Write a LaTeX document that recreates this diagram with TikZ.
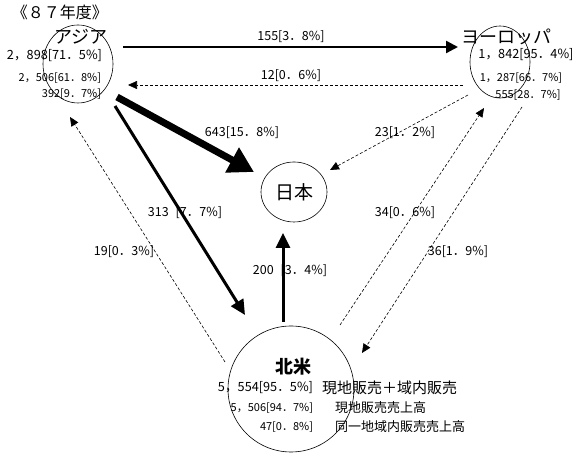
\documentclass[tikz,border=0pt]{standalone}
\usepackage{fontspec}
\setmainfont{Noto Sans CJK JP}
\usepackage{tikz}
\usetikzlibrary{arrows.meta,shapes.geometric}

\begin{document}
\begin{tikzpicture}[x=1pt,y=1pt,
  region/.style={draw=drawColor,line width=0.6pt,ellipse,inner sep=0pt,outer sep=0pt},
  txt/.style={text=drawColor,inner sep=0pt,outer sep=0pt},
  yeartitle/.style={txt,font=\fontsize{16}{18}\selectfont},
  areaname/.style={txt,font=\fontsize{18}{20}\selectfont},
  bignum/.style={txt,font=\fontsize{12.7}{14}\selectfont},
  smallnum/.style={txt,font=\fontsize{11}{13}\selectfont},
  bignote/.style={txt,font=\fontsize{15}{17}\selectfont},
  smallnote/.style={txt,font=\fontsize{13}{15}\selectfont},
  flowlabel/.style={txt,font=\fontsize{12.5}{14}\selectfont},
  flowsolid/.style={draw=drawColor,line width=2.4pt,-{Triangle[length=12pt,width=12pt]}},
  flowmid/.style={draw=drawColor,line width=3pt,-{Triangle[length=15pt,width=14pt]}},
  flowheavy/.style={draw=drawColor,line width=7pt,-{Triangle[length=25pt,width=27pt]}},
  flowdash/.style={draw=drawColor,line width=0.6pt,dash pattern=on 3pt off 2pt,-{Triangle[length=9pt,width=8pt]}}]
\definecolor{fillColor}{RGB}{255,255,255}
\definecolor{drawColor}{RGB}{0,0,0}
\path[use as bounding box,fill=fillColor] (0,0) rectangle (584,454);

\node[yeartitle] (title) at ( 60,442) {《８７年度》};

\node[region,minimum width=70,minimum height=78] (asia) at ( 78,390) {};

\node[areaname] (asiaName) at ( 81,417) {アジア};

\node[bignum,anchor=east] (asiaTotal) at (102,398) {2，898[71．5\%]};

\node[smallnum,anchor=east] (asiaLocal) at (101,376) {2，506[61．8\%]};

\node[smallnum,anchor=east] (asiaIntra) at (101,360) {392[9．7\%]};

\node[region,minimum width=60,minimum height=72] (europe) at (500,392) {};

\node[areaname] (europeName) at (506,417) {ヨーロッパ};

\node[bignum] (europeTotal) at (526,399) {1，842[95．4\%]};

\node[smallnum] (europeLocal) at (521,376) {1，287[66．7\%]};

\node[smallnum] (europeIntra) at (528,359) {555[28．7\%]};

\node[region,minimum width=66,minimum height=60,font=\fontsize{19}{21}\selectfont] (japan) at (294,262) {日本};

\node[region,minimum width=126,minimum height=126] (namerica) at (291, 65) {};

\node[areaname,font=\fontsize{18}{20}\selectfont\bfseries] (namericaName) at (293, 87) {北米};

\node[bignum,anchor=east] (namericaTotal) at (313, 66) {5，554[95．5\%]};

\node[bignote,anchor=west] (namericaTotalNote) at (322, 66) {現地販売＋域内販売};

\node[smallnum,anchor=east] (namericaLocal) at (313, 46) {5，506[94．7\%]};

\node[smallnote,anchor=west] (namericaLocalNote) at (335, 46) {現地販売売上高};

\node[smallnum,anchor=east] (namericaIntra) at (313, 27) {47[0．8\%]};

\node[smallnote,anchor=west] (namericaIntraNote) at (335, 27) {同一地域内販売売上高};

\draw[flowsolid] ([shift={(45,17)}]asia.center) -- ([shift={(-42,15)}]europe.center);

\draw[flowdash] ([shift={(-37,-23)}]europe.center) -- ([shift={(50,-21)}]asia.center);

\draw[flowheavy] ([shift={(39,-33)}]asia.center) -- ([shift={(-40,20)}]japan.center);

\draw[flowmid] ([shift={(37,-42)}]asia.center) -- ([shift={(-46,74)}]namerica.center);

\draw[flowmid] ([shift={(-8,67)}]namerica.center) -- ([shift={(-11,-41)}]japan.center);

\draw[flowdash] ([shift={(-66,27)}]namerica.center) -- ([shift={(-8,-53)}]asia.center);

\draw[flowdash] ([shift={(-32,-33)}]europe.center) -- ([shift={(36,22)}]japan.center);

\draw[flowdash] ([shift={(49,64)}]namerica.center) -- ([shift={(-16,-46)}]europe.center);

\draw[flowdash] ([shift={(22,-45)}]europe.center) -- ([shift={(71,36)}]namerica.center);

\node[flowlabel] (labAsiaEurope) at (291,417) {155[3．8\%]};

\node[flowlabel] (labEuropeAsia) at (291,378) {12[0．6\%]};

\node[flowlabel] (labAsiaJapan) at (242,321) {643[15．8\%]};

\node[flowlabel] (labAsiaNamerica) at (185,241) {313\hspace{7pt}[7．7\%]};

\node[flowlabel] (labNamericaJapan) at (290,183) {200\hspace{7pt}[3．4\%]};

\node[flowlabel] (labNamericaAsia) at (124,202) {19[0．3\%]};

\node[flowlabel] (labEuropeJapan) at (405,321) {23[1．2\%]};

\node[flowlabel] (labNamericaEurope) at (405,241) {34[0．6\%]};

\node[flowlabel] (labEuropeNamerica) at (458,202) {36[1．9\%]};
\end{tikzpicture}
\end{document}
